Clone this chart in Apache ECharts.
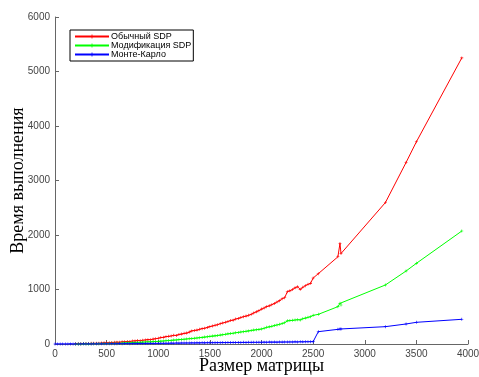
<!DOCTYPE html>
<html>
<head>
<meta charset="utf-8">
<script src="https://cdn.jsdelivr.net/npm/echarts@6/dist/echarts.min.js"></script>
<style>
  html, body { margin: 0; padding: 0; background: #fff; }
  #chart { width: 479px; height: 377px; }
</style>
</head>
<body>
<div id="chart"></div>
<script>
// Matrix sizes (x values)
const sizes = [
  0, 25, 50, 75,
  100, 125, 150, 175,
  200, 225, 250, 275,
  300, 325, 350, 375,
  400, 425, 450, 475,
  500, 525, 550, 575,
  600, 625, 650, 675,
  700, 725, 750, 775,
  800, 825, 850, 875,
  900, 925, 950, 975,
  1000, 1025, 1050, 1075,
  1100, 1125, 1150, 1175,
  1200, 1225, 1250, 1275,
  1300, 1325, 1350, 1375,
  1400, 1425, 1450, 1475,
  1500, 1525, 1550, 1575,
  1600, 1625, 1650, 1675,
  1700, 1725, 1750, 1775,
  1800, 1825, 1850, 1875,
  1900, 1925, 1950, 1975,
  2000, 2025, 2050, 2075,
  2100, 2125, 2150, 2175,
  2200, 2225, 2250, 2275,
  2300, 2325, 2350, 2375,
  2400, 2425, 2450, 2475,
  2500, 2550, 2740, 2760, 2770, 3200, 3400, 3500, 3940
];

// Execution time: plain SDP
const timeSdp = [
  null, null, null, null,
  null, null, null, null,
  4, 6, 5, 8,
  9, 8, 12, 13,
  15, 14, 19, 21,
  24, 22, 28, 31,
  34, 33, 40, 42,
  47, 45, 54, 57,
  62, 60, 70, 74,
  80, 78, 90, 96,
  105, 118, 122, 135,
  140, 148, 160, 158,
  175, 182, 195, 200,
  218, 240, 248, 255,
  270, 282, 290, 305,
  318, 330, 345, 352,
  372, 385, 400, 412,
  430, 438, 458, 470,
  485, 500, 512, 528,
  545, 570, 590, 612,
  640, 660, 685, 700,
  720, 745, 770, 795,
  830, 850, 960, 975,
  1000, 1030, 1050, 1003,
  1040, 1070, 1095, 1113,
  1210, 1290, 1600, 1845, 1660, 2595, 3330, 3710, 5250
];

// Execution time: modified SDP
const timeSdpMod = [
  null, null, null, null,
  null, null, null, null,
  1, 2, 1, 3,
  3, 2, 4, 5,
  5, 6, 8, 7,
  10, 11, 12, 14,
  15, 14, 18, 20,
  22, 21, 26, 28,
  31, 30, 35, 37,
  40, 39, 44, 46,
  48, 52, 55, 60,
  63, 66, 72, 74,
  80, 84, 88, 92,
  96, 100, 106, 110,
  116, 121, 127, 132,
  140, 145, 150, 156,
  163, 170, 178, 186,
  192, 198, 206, 212,
  220, 226, 233, 240,
  248, 255, 262, 268,
  275, 290, 306, 315,
  325, 338, 350, 362,
  375, 390, 425, 430,
  434, 440, 445, 442,
  462, 475, 490, 500,
  526, 544, 685, 746, 716, 1083, 1339, 1480, 2073
];

// Execution time: Monte Carlo
const timeMonteCarlo = [
  0, 1, 0, 1,
  0, 1, 2, 1,
  2, 1, 2, 3,
  2, 3, 2, 4,
  3, 4, 3, 5,
  4, 5, 6, 4,
  6, 7, 5, 7,
  8, 6, 8, 9,
  7, 10, 9, 11,
  10, 12, 10, 13,
  12, 14, 13, 15,
  14, 16, 15, 17,
  16, 18, 17, 19,
  18, 20, 19, 21,
  20, 22, 21, 23,
  22, 24, 23, 25,
  24, 26, 25, 27,
  26, 28, 27, 29,
  28, 30, 29, 31,
  30, 32, 31, 33,
  32, 34, 33, 35,
  34, 35, 34, 36,
  35, 37, 36, 38,
  37, 39, 38, 40,
  39, 41, 40, 42,
  43, 226, 269, 275, 275, 318, 367, 398, 453
];

const seriesNames = ['Обычный SDP', 'Модификация SDP', 'Монте-Карло'];
const seriesColors = ['#ff0000', '#00ff00', '#0000ff'];
const seriesValues = [timeSdp, timeSdpMod, timeMonteCarlo];

const xTicks = { min: 0, max: 4000, interval: 500 };
const yTicks = { min: 0, max: 6000, interval: 1000 };

// plus-shaped marker
const plusSymbol = 'path://M4,0H6V4H10V6H6V10H4V6H0V4H4Z';

function pairs(xs, ys) {
  const out = [];
  for (let i = 0; i < xs.length; i++) {
    if (ys[i] !== null) out.push([xs[i], ys[i]]);
  }
  return out;
}

const chart = echarts.init(document.getElementById('chart'), null, { renderer: 'canvas' });

const tickLabelStyle = {
  color: '#444',
  fontFamily: 'Liberation Sans, Arial, sans-serif',
  fontSize: 10,
  formatter: v => String(v)
};

chart.setOption({
  animation: false,
  backgroundColor: '#ffffff',
  grid: { left: 55, right: 11, top: 17, bottom: 33, containLabel: false, outerBoundsMode: 'none' },
  legend: {
    orient: 'vertical',
    left: 70,
    top: 30,
    padding: [2, 2, 2, 4],
    itemGap: 0,
    itemWidth: 34,
    itemHeight: 5,
    borderColor: '#000',
    borderWidth: 1,
    backgroundColor: '#fff',
    textStyle: { fontFamily: 'Liberation Sans, Arial, sans-serif', fontSize: 9, color: '#000', padding: [0, 0, 0, -3] },
    data: seriesNames
  },
  xAxis: {
    type: 'value',
    min: xTicks.min, max: xTicks.max, interval: xTicks.interval,
    name: 'Размер матрицы',
    nameLocation: 'middle',
    nameGap: 13,
    nameMoveOverlap: false,
    nameTextStyle: { fontFamily: 'Liberation Serif, Times New Roman, serif', fontSize: 18, color: '#000', verticalAlign: 'top' },
    axisLine: { lineStyle: { color: '#666', width: 1 } },
    axisTick: { inside: true, length: 4, lineStyle: { color: '#666' } },
    axisLabel: Object.assign({ margin: 5 }, tickLabelStyle),
    splitLine: { show: false }
  },
  yAxis: {
    type: 'value',
    min: yTicks.min, max: yTicks.max, interval: yTicks.interval,
    name: 'Время выполнения',
    nameLocation: 'middle',
    nameGap: 28,
    nameMoveOverlap: false,
    nameTextStyle: { fontFamily: 'Liberation Serif, Times New Roman, serif', fontSize: 18, color: '#000', verticalAlign: 'bottom' },
    axisLine: { show: true, lineStyle: { color: '#666', width: 1 } },
    axisTick: { show: true, inside: true, length: 4, lineStyle: { color: '#666' } },
    axisLabel: Object.assign({ margin: 5 }, tickLabelStyle),
    splitLine: { show: false }
  },
  series: seriesNames.map((name, i) => ({
    name: name,
    type: 'line',
    data: pairs(sizes, seriesValues[i]),
    symbol: plusSymbol,
    symbolSize: 3,
    showSymbol: true,
    showAllSymbol: true,
    lineStyle: { color: seriesColors[i], width: 1 },
    itemStyle: { color: seriesColors[i] },
    emphasis: { disabled: true }
  }))
});
</script>
</body>
</html>
